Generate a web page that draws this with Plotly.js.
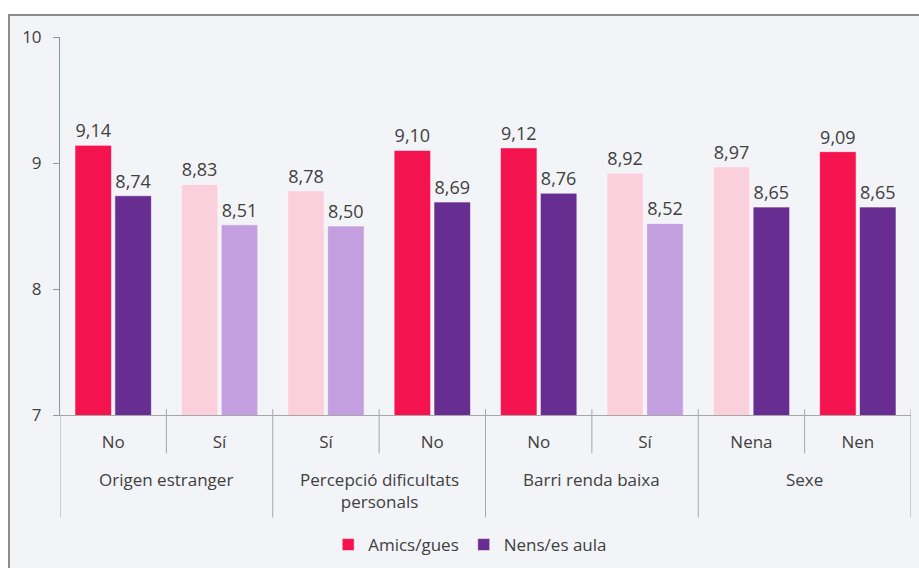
<!DOCTYPE html>
<html>
<head>
<meta charset="utf-8">
<script src="https://cdn.plot.ly/plotly-3.0.1.min.js"></script>
<style>
  body { margin: 0; background: #ffffff; overflow: hidden; }
  #frame { position: absolute; left: 8px; top: 14px; width: 1000px; height: 1000px;
           border: 2px solid #8c8c8c; background: #f3f4f7; }
  #chart { position: absolute; left: 0; top: 0; width: 919px; height: 568px; }
</style>
</head>
<body>
<div id="frame"></div>
<div id="chart"></div>
<script>
// categories (inner level) and their groups
var subLabels = ['No', 'Sí', 'Sí', 'No', 'No', 'Sí', 'Nena', 'Nen'];
var groupLabels = ['Origen estranger', 'Percepció dificultats<br>personals', 'Barri renda baixa', 'Sexe'];
var perGroup = 2;

// series values
var amics = [9.14, 8.83, 8.78, 9.10, 9.12, 8.92, 8.97, 9.09];
var aula  = [8.74, 8.51, 8.50, 8.69, 8.76, 8.52, 8.65, 8.65];

// which bars are drawn in the light tone
var amicsLight = [false, true, true, false, false, true, true, false];
var aulaLight  = [false, true, true, false, false, true, false, false];

var yTicks = [7, 8, 9, 10];

var RED = '#f5134f', RED_L = '#fbd0dd';
var PUR = '#672d91', PUR_L = '#c49fe0';
var FONT = 'Open Sans, sans-serif';
var TXT = '#404040';
var SEP = '#a6a6a6';

var xIdx = subLabels.map(function (_, i) { return i; });

var data = [{
  type: 'bar',
  name: 'Amics/gues',
  x: xIdx,
  y: amics,
  marker: {
    color: amicsLight.map(function (l) { return l ? RED_L : RED; }),
    line: {width: 1, color: 'rgba(255,255,255,0.55)'}
  },
  texttemplate: '%{y:.2f}',
  textposition: 'outside',
  constraintext: 'none',
  cliponaxis: false,
  textfont: {family: FONT, size: 18, color: TXT},
  hoverinfo: 'skip'
}, {
  type: 'bar',
  name: 'Nens/es aula',
  x: xIdx,
  y: aula,
  marker: {
    color: aulaLight.map(function (l) { return l ? PUR_L : PUR; }),
    line: {width: 1, color: 'rgba(255,255,255,0.55)'}
  },
  texttemplate: '%{y:.2f}',
  textposition: 'outside',
  constraintext: 'none',
  cliponaxis: false,
  textfont: {family: FONT, size: 18, color: TXT},
  hoverinfo: 'skip'
}];

// pixel helpers for the plot box (top 37, bottom 414.7)
var H = 568;
var plotTop = 37, plotBot = 414.7, plotH = plotBot - plotTop;
function py(pix) { return (plotBot - pix) / plotH; }

// category separators: short inside a group, long between groups
var shapes = [];
for (var b = 0; b <= subLabels.length; b++) {
  var longLine = (b % perGroup === 0);
  shapes.push({
    type: 'line', xref: 'x', yref: 'paper',
    x0: b - 0.5, x1: b - 0.5,
    y0: py(b === 0 ? 414.7 : 409), y1: py(longLine ? 517 : 453),
    line: {color: SEP, width: 1}
  });
}

// group labels under the sub categories
var annotations = groupLabels.map(function (g, k) {
  return {
    xref: 'x', yref: 'paper',
    x: k * perGroup + (perGroup - 1) / 2,
    y: py(466), yanchor: 'top',
    text: g, showarrow: false,
    font: {family: FONT, size: 17, color: TXT}
  };
});

var layout = {
  width: 919,
  height: H,
  paper_bgcolor: 'rgba(0,0,0,0)',
  plot_bgcolor: 'rgba(0,0,0,0)',
  margin: {l: 60, r: 8, t: plotTop, b: H - plotBot},
  separators: ',.',
  bargap: 0.25,
  bargroupgap: 0.085,
  font: {family: FONT, size: 17, color: TXT},
  xaxis: {
    range: [-0.5, subLabels.length - 0.5],
    tickvals: xIdx,
    ticktext: subLabels,
    ticks: 'outside',
    ticklen: 12,
    tickcolor: 'rgba(0,0,0,0)',
    showline: true,
    linecolor: SEP,
    linewidth: 1,
    showgrid: false,
    zeroline: false,
    automargin: false,
    fixedrange: true,
    tickfont: {family: FONT, size: 17, color: TXT}
  },
  yaxis: {
    range: [7, 10],
    tickvals: yTicks,
    ticks: 'outside',
    ticklen: 6,
    tickcolor: '#8497b0',
    ticklabelstandoff: 8,
    showline: true,
    linecolor: '#8497b0',
    linewidth: 1,
    showgrid: false,
    zeroline: false,
    automargin: false,
    fixedrange: true,
    tickfont: {family: FONT, size: 17, color: TXT}
  },
  yaxis2: {
    overlaying: 'y',
    range: [7, 10],
    tickvals: yTicks,
    ticks: 'inside',
    ticklen: 6,
    tickcolor: '#8497b0',
    showticklabels: false,
    showline: false,
    showgrid: false,
    zeroline: false,
    automargin: false
  },
  showlegend: true,
  legend: {
    orientation: 'h',
    x: 0.482, xanchor: 'center',
    yref: 'container',
    y: 1 - 545 / H, yanchor: 'middle',
    font: {family: FONT, size: 17, color: TXT},
    bgcolor: 'rgba(0,0,0,0)',
    itemwidth: 30
  },
  shapes: shapes,
  annotations: annotations
};

Plotly.newPlot('chart', data, layout, {displayModeBar: false, staticPlot: true});
</script>
</body>
</html>
